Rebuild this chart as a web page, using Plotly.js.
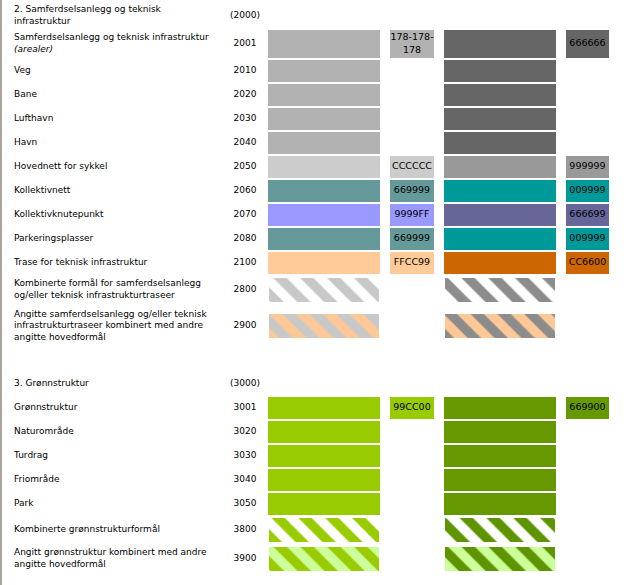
<!DOCTYPE html>
<html><head><meta charset="utf-8">
<script src="https://cdn.plot.ly/plotly-3.0.1.min.js"></script>
<style>html,body{margin:0;padding:0;background:#fff}</style>
</head><body><div id="chart" style="width:628px;height:585px"></div>
<script>
// ---------- data ----------
const section2Title = '2. Samferdselsanlegg og teknisk<br>infrastruktur';
const section2Code = '(2000)';
const sec2Codes = ['2001','2010','2020','2030','2040','2050','2060','2070','2080','2100','2800','2900'];
const sec2Labels = [
  'Samferdselsanlegg og teknisk infrastruktur<br><i>(arealer)</i>',
  'Veg','Bane','Lufthavn','Havn','Hovednett for sykkel','Kollektivnett',
  'Kollektivknutepunkt','Parkeringsplasser','Trase for teknisk infrastruktur',
  'Kombinerte formål for samferdselsanlegg<br>og/eller teknisk infrastrukturtraseer',
  'Angitte samferdselsanlegg og/eller teknisk<br>infrastrukturtraseer kombinert med andre<br>angitte hovedformål'
];
const sec2LightFill   = ['#B2B2B2','#B2B2B2','#B2B2B2','#B2B2B2','#B2B2B2','#CCCCCC','#669999','#9999FF','#669999','#FFCC99','#FFFFFF','#FFC896'];
const sec2LightStripe = ['','','','','','','','','','','#C8C8C8','#C8C8C8'];
const sec2LightHex    = ['178-178-178','','','','','CCCCCC','669999','9999FF','669999','FFCC99','',''];
const sec2DarkFill    = ['#666666','#666666','#666666','#666666','#666666','#999999','#009999','#666699','#009999','#CC6600','#FFFFFF','#FFC896'];
const sec2DarkStripe  = ['','','','','','','','','','','#8C8C8C','#8C8C8C'];
const sec2DarkHex     = ['666666','','','','','999999','009999','666699','009999','CC6600','',''];

const section3Title = '3. Grønnstruktur';
const section3Code = '(3000)';
const sec3Codes = ['3001','3020','3030','3040','3050','3800','3900'];
const sec3Labels = ['Grønnstruktur','Naturområde','Turdrag','Friområde','Park',
  'Kombinerte grønnstrukturformål',
  'Angitt grønnstruktur kombinert med andre<br>angitte hovedformål'];
const sec3LightFill   = ['#99CC00','#99CC00','#99CC00','#99CC00','#99CC00','#FFFFFF','#CCFF99'];
const sec3LightStripe = ['','','','','','#99CC00','#99CC00'];
const sec3LightHex    = ['99CC00','','','','','',''];
const sec3DarkFill    = ['#669900','#669900','#669900','#669900','#669900','#FFFFFF','#CCFF99'];
const sec3DarkStripe  = ['','','','','','#5E9400','#5E9400'];
const sec3DarkHex     = ['669900','','','','','',''];

// ---------- layout helpers ----------
const FONT = 'DejaVu Sans, Verdana, sans-serif';
const COL = {label:14, code:245, sw1:[268,380], box1:[390,434], sw2:[444,556], box2:[566,609]};
function nLines(s){ return s.split('<br>').length; }
function wrapHex(s){ return s.length > 8 ? s.replace(/^(\d+-\d+-)/, '$1<br>') : s; }

const heads = [], rows = [];
let y = 0;
heads.push({label:section2Title, code:section2Code, yc:y+16}); y += 29;
function addSection(codes, labels, lf, ls, lh, df, ds, dh){
  codes.forEach((c,i)=>{
    const hatched = !!ls[i];
    const n = nLines(labels[i]);
    const h = n===1 ? (hatched?28:24) : (n===2?30:42);
    rows.push({code:c, label:labels[i], yc:y+h/2, sh: hatched?24:h-2, hatched,
      lf:lf[i], ls:ls[i], lh:lh[i], df:df[i], ds:ds[i], dh:dh[i]});
    y += h;
  });
}
addSection(sec2Codes, sec2Labels, sec2LightFill, sec2LightStripe, sec2LightHex, sec2DarkFill, sec2DarkStripe, sec2DarkHex);
y += 25;
heads.push({label:section3Title, code:section3Code, yc:y+12}); y += 24;
addSection(sec3Codes, sec3Labels, sec3LightFill, sec3LightStripe, sec3LightHex, sec3DarkFill, sec3DarkStripe, sec3DarkHex);

const all = heads.concat(rows);
const textFont = {family:FONT, size:9, color:'#000000'};

function swatchTraces(range, fillKey, stripeKey){
  const hr = rows.filter(r=>r.hatched);
  return [{
    type:'bar', orientation:'h', hoverinfo:'skip', showlegend:false,
    y: rows.map(r=>r.yc),
    base: rows.map(r=> range[0] + (r.hatched?1:0)),
    x: rows.map(r=> (range[1]-range[0]) - (r.hatched?2:0)),
    width: rows.map(r=>r.sh),
    marker:{ color: rows.map(r=>r[fillKey]), line:{width:0} }
  },{
    type:'bar', orientation:'h', hoverinfo:'skip', showlegend:false,
    y: hr.map(r=>r.yc),
    base: hr.map(()=> range[0] + 1),
    x: hr.map(()=> (range[1]-range[0]) - 2),
    width: hr.map(r=>r.sh),
    marker:{
      color: hr.map(r=>r[stripeKey]),
      line:{width:0},
      pattern:{ shape:'\\', fgcolor: hr.map(r=>r[stripeKey]), bgcolor:'rgba(0,0,0,0)',
                fillmode:'replace', size:19, solidity:0.5 }
    }
  }];
}
function boxTraces(range, hexKey, fillKey){
  const rr = rows.filter(r=>r[hexKey]);
  return [{
    type:'bar', orientation:'h', hoverinfo:'skip', showlegend:false,
    y: rr.map(r=>r.yc), base: rr.map(()=>range[0]), x: rr.map(()=>range[1]-range[0]),
    width: rr.map(r=>r.sh), marker:{color: rr.map(r=>r[fillKey]), line:{width:0}}
  },{
    type:'scatter', mode:'text', hoverinfo:'skip', showlegend:false,
    x: rr.map(()=> (range[0]+range[1])/2), y: rr.map(r=>r.yc),
    text: rr.map(r=>wrapHex(r[hexKey])), textposition:'middle center',
    textfont:{family:FONT, size:9.5, color:'#000000'}
  }];
}

const traces = [
  ...swatchTraces(COL.sw1,'lf','ls'),
  ...swatchTraces(COL.sw2,'df','ds'),
  ...boxTraces(COL.box1,'lh','lf'),
  ...boxTraces(COL.box2,'dh','df'),
  {type:'scatter', mode:'text', hoverinfo:'skip', showlegend:false,
   x: all.map(()=>COL.label), y: all.map(r=>r.yc), text: all.map(r=>r.label),
   textposition:'middle right', textfont:textFont},
  {type:'scatter', mode:'text', hoverinfo:'skip', showlegend:false,
   x: all.map(()=>COL.code), y: all.map(r=>r.yc), text: all.map(r=>r.code),
   textposition:'middle center', textfont:textFont}
];

const layout = {
  width:628, height:585,
  margin:{l:2, r:0, t:0, b:0, pad:0},
  paper_bgcolor:'#FFFFFF', plot_bgcolor:'#FFFFFF',
  showlegend:false, barmode:'overlay',
  xaxis:{range:[2,628], visible:false, fixedrange:true},
  yaxis:{range:[585,0], showline:true, linecolor:'#A9A59A', linewidth:2,
         showgrid:false, zeroline:false, showticklabels:false, ticks:'', fixedrange:true}
};
Plotly.newPlot('chart', traces, layout, {staticPlot:true, displayModeBar:false});
</script>
</body></html>
